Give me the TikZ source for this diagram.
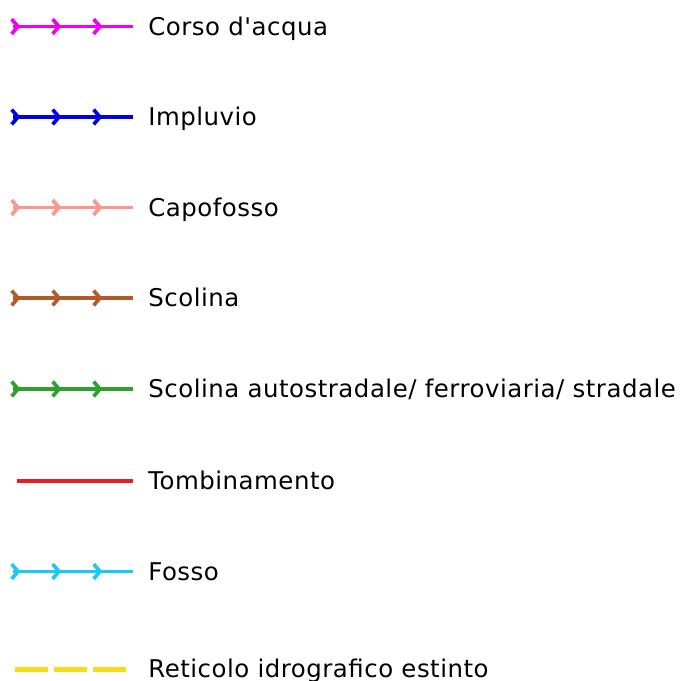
\documentclass[tikz,border=0pt]{standalone}
\usepackage{fontspec}
\newfontfamily\lgndfont{DejaVu Sans}[LetterSpace=2.1]
\usetikzlibrary{decorations.markings}

\definecolor{corso}{RGB}{240,0,240}
\definecolor{impluvio}{RGB}{0,0,225}
\definecolor{capofosso}{RGB}{248,152,142}
\definecolor{scolina}{RGB}{178,90,40}
\definecolor{scolinastr}{RGB}{45,160,45}
\definecolor{tombino}{RGB}{230,30,35}
\definecolor{fosso}{RGB}{30,200,245}
\definecolor{estinto}{RGB}{248,220,25}

\tikzset{
  chevron/.style={line width=2.1pt,#1},
  flow/.style={line width=2pt,#1,postaction={decorate},
    decoration={markings,
      mark=at position 0.1cm with {\draw[chevron=#1] (-3.6pt,4.2pt) -- (0,0) -- (-3.6pt,-4.2pt);},
      mark=at position 0.92cm with {\draw[chevron=#1] (-3.6pt,4.2pt) -- (0,0) -- (-3.6pt,-4.2pt);},
      mark=at position 1.74cm with {\draw[chevron=#1] (-3.6pt,4.2pt) -- (0,0) -- (-3.6pt,-4.2pt);}}},
  plain/.style={line width=2pt,#1},
  extinct/.style={line width=2.8pt,#1,dash pattern=on 0.66cm off 0.12cm},
  lbl/.style={anchor=base west,inner sep=0pt,font=\lgndfont\fontsize{13.9}{15}\selectfont}
}

\begin{document}
\begin{tikzpicture}[x=0.02cm,y=-0.02cm]
    \useasboundingbox (0,0) rectangle (680,681);
    % legenda reticolo idrografico
    \coordinate (s1) at (13,26.5);  \coordinate (e1) at (133,26.5);
    \coordinate (s2) at (13,117);   \coordinate (e2) at (133,117);
    \coordinate (s3) at (13,207.5); \coordinate (e3) at (133,207.5);
    \coordinate (s4) at (13,298);   \coordinate (e4) at (133,298);
    \coordinate (s5) at (13,389);   \coordinate (e5) at (133,389);
    \coordinate (s6) at (17,481);   \coordinate (e6) at (133,481);
    \coordinate (s7) at (13,571.5); \coordinate (e7) at (133,571.5);
    \coordinate (s8) at (15,669.5); \coordinate (e8) at (127,669.5);
    \draw[flow=corso] (s1) -- (e1);
    \draw[flow=impluvio] (s2) -- (e2);
    \draw[flow=capofosso] (s3) -- (e3);
    \draw[flow=scolina] (s4) -- (e4);
    \draw[flow=scolinastr] (s5) -- (e5);
    \draw[plain=tombino] (s6) -- (e6);
    \draw[flow=fosso] (s7) -- (e7);
    \draw[extinct=estinto] (s8) -- (e8);
    \node[lbl] (t1) at (148,35) {Corso d'acqua};
    \node[lbl] (t2) at (148,125.5) {Impluvio};
    \node[lbl] (t3) at (148,216) {Capofosso};
    \node[lbl] (t4) at (148,306.5) {Scolina};
    \node[lbl] (t5) at (148,397.5) {Scolina autostradale/ ferroviaria/ stradale};
    \node[lbl] (t6) at (148,489) {Tombinamento};
    \node[lbl] (t7) at (148,580) {Fosso};
    \node[lbl] (t8) at (148,677) {Reticolo idrografico estinto};
\end{tikzpicture}
\end{document}
